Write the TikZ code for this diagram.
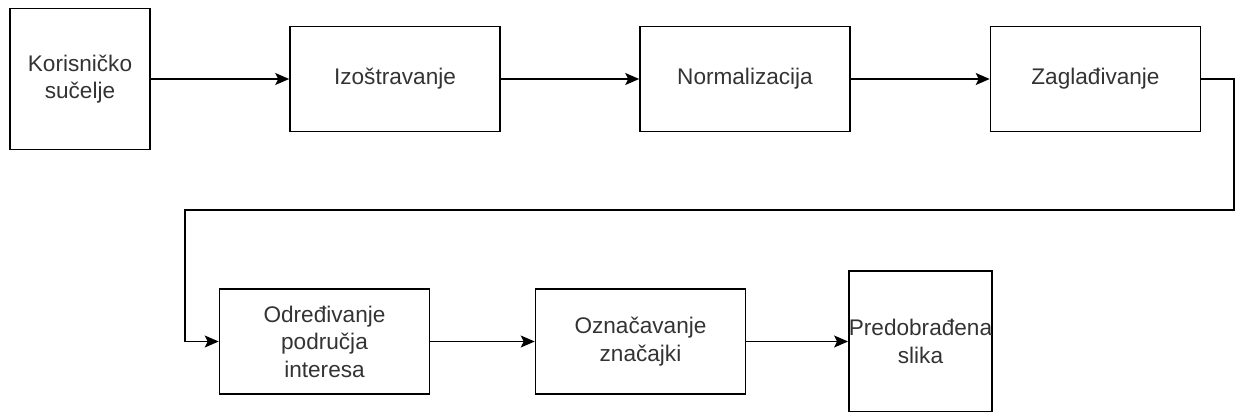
\documentclass[tikz,border=0pt]{standalone}
\usepackage{fontspec}
\setmainfont{Liberation Sans}
\usetikzlibrary{arrows.meta}
\tikzset{
    stepbox/.style={draw, line width=1.6pt, inner sep=0pt, align=center,
        text=black!80, font=\fontsize{22.6}{27.5}\selectfont,
        minimum width=210pt, minimum height=105pt},
    squarebox/.style={stepbox, minimum width=140pt, minimum height=141pt},
    flow/.style={line width=1.6pt, -{Stealth[length=14pt,width=12pt,inset=3pt]}}
}
\begin{document}
\begin{tikzpicture}[x=1pt, y=-1pt]
        \useasboundingbox (0,0) rectangle (1235,412);
        % first row
        \node[squarebox] (STEP_KOR) at (80,79) {Korisničko\\sučelje};
        \node[stepbox] (STEP_IZO) at (395,79) {Izoštravanje};
        \node[stepbox] (STEP_NOR) at (745,79) {Normalizacija};
        \node[stepbox] (STEP_ZAG) at (1095.5,79) {Zaglađivanje};
        % second row
        \node[stepbox] (STEP_ODR) at (324.5,341.5) {Određivanje\\područja\\interesa};
        \node[stepbox] (STEP_OZN) at (640.5,341.5) {Označavanje\\značajki};
        \node[squarebox] (STEP_PRE) at (920.5,341.5) {Predobrađena\\slika};
        % turning points of the long connector
        \coordinate (TURN_R) at (1234,210);
        \coordinate (TURN_L) at (185,210);
        \draw[flow] (STEP_KOR) to (STEP_IZO);
        \draw[flow] (STEP_IZO) to (STEP_NOR);
        \draw[flow] (STEP_NOR) to (STEP_ZAG);
        \draw[flow] (STEP_ZAG.east) -| (TURN_R) -- (TURN_L) |- (STEP_ODR.west);
        \draw[flow] (STEP_ODR) to (STEP_OZN);
        \draw[flow] (STEP_OZN) to (STEP_PRE);
\end{tikzpicture}
\end{document}
